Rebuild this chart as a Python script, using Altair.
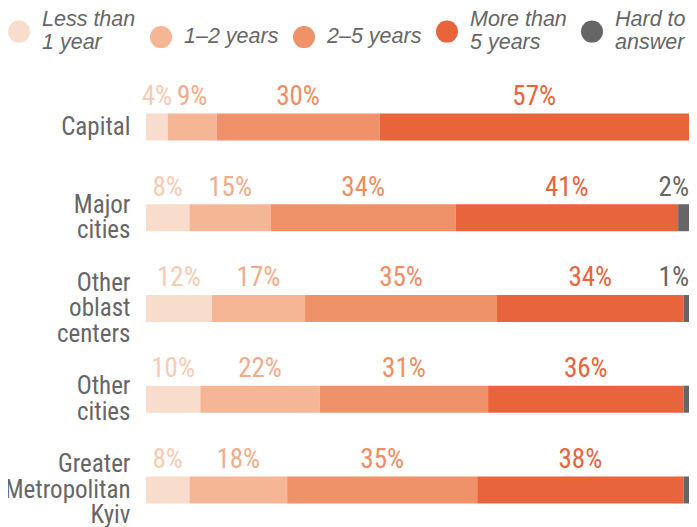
import altair as alt
import pandas as pd

# ---- data ----
regions = ["Capital", "Major\ncities", "Other\noblast\ncenters", "Other\ncities",
           "Greater\nMetropolitan\nKyiv"]
groups = ["Less than\n1 year", "1–2 years", "2–5 years", "More than\n5 years", "Hard to\nanswer"]
less_1 = [4, 8, 12, 10, 8]
y1_2 = [9, 15, 17, 22, 18]
y2_5 = [30, 34, 35, 31, 35]
more_5 = [57, 41, 34, 36, 38]
hard = [0, 2, 1, 1, 1]
hard_labels = ["", "2%", "1%", "", ""]

bar_colors = ["#F9DDCC", "#F5B696", "#EF9169", "#E8643A", "#666666"]
label_colors = ["#F7CBB3", "#F3AC89", "#EF8D63", "#E8643A", "#666666"]

series = [less_1, y1_2, y2_5, more_5, hard]

rows = []
for i, reg in enumerate(regions):
    vals = [s[i] for s in series]
    total = sum(vals)
    cum = 0.0
    for j, g in enumerate(groups):
        v = vals[j]
        start = cum / total * 100
        cum += v
        end = cum / total * 100
        if j < 4:
            lab = f"{v}%"
        else:
            lab = hard_labels[i]
        rows.append(dict(region=reg, group=g, order=j, value=v, start=start, end=end,
                         mid=(start + end) / 2, label=lab, lcolor=label_colors[j],
                         is_hard=(j == 4)))
df = pd.DataFrame(rows)

NARROW = "Liberation Sans Narrow, Roboto Condensed, DejaVu Sans Condensed, Liberation Sans, sans-serif"
LH = 25.5

y_enc = alt.Y("region:N", sort=regions,
              scale=alt.Scale(paddingInner=0, paddingOuter=0, range=[0, 453.75]),
              axis=alt.Axis(title=None, domain=False, ticks=False, labelFont=NARROW,
                            labelFontSize=25, labelColor="#666666", labelPadding=16,
                            labelLineHeight=LH, labelExpr="split(datum.label, '\\n')",
                            labelOffset={"condition": [
                                {"test": "length(split(datum.value, '\\n')) == 3", "value": -LH},
                                {"test": "length(split(datum.value, '\\n')) == 2", "value": -LH / 2}],
                                "value": 0}))

x_scale = alt.Scale(domain=[0, 100], nice=False, zero=True)

bars = alt.Chart(df).mark_bar(size=27).encode(
    y=y_enc,
    x=alt.X("start:Q", scale=x_scale, axis=None),
    x2="end:Q",
    color=alt.Color("group:N", sort=groups,
                    scale=alt.Scale(domain=groups, range=bar_colors),
                    legend=alt.Legend(title=None, orient="none", direction="horizontal",
                                      columns=5, legendX=-138, legendY=-61,
                                      symbolType="circle", symbolSize=484,
                                      symbolStrokeWidth=0, symbolOpacity=1,
                                      labelFont="Liberation Sans, sans-serif",
                                      labelFontStyle="italic", labelFontSize=21.5,
                                      labelColor="#666666",
                                      labelOffset=12, columnPadding=14, padding=0,
                                      labelExpr="split(datum.label, '\\n')",
                                      labelBaseline={"expr": "indexof(datum.label, '\\n') >= 0 ? 'line-bottom' : 'middle'"},
                                      labelLimit=200)),
)

texts_main = alt.Chart(df).transform_filter("!datum.is_hard").mark_text(
    font=NARROW, fontSize=27, baseline="alphabetic", align="center", yOffset=-22
).encode(
    y=alt.Y("region:N", sort=regions),
    x=alt.X("mid:Q", scale=x_scale),
    text="label:N",
    color=alt.Color("lcolor:N", scale=None),
)

texts_hard = alt.Chart(df).transform_filter("datum.is_hard").mark_text(
    font=NARROW, fontSize=27, baseline="alphabetic", align="right", yOffset=-22
).encode(
    y=alt.Y("region:N", sort=regions),
    x=alt.X("end:Q", scale=x_scale),
    text="label:N",
    color=alt.Color("lcolor:N", scale=None),
)

chart = alt.layer(bars, texts_main, texts_hard).properties(
    width=543, height=445.4,
    autosize=alt.AutoSizeParams(type="none"),
    padding={"left": 138, "top": 73.6, "right": 0, "bottom": 0},
).configure_view(stroke=None)

chart.save("out.html", embed_options={"renderer": "svg", "actions": False})
